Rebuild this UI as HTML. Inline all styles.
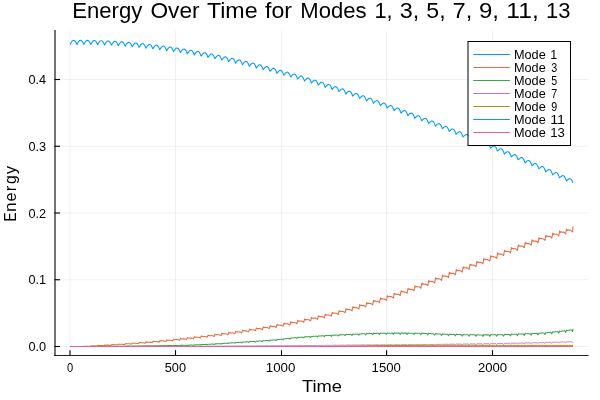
<!DOCTYPE html>
<html><head><meta charset="utf-8"><style>
html,body{margin:0;padding:0;background:#fff;}
svg{display:block;will-change:transform;}
text{font-family:"Liberation Sans",sans-serif;fill:#000;}
</style></head><body>
<svg width="600" height="400" viewBox="0 0 600 400">
<rect width="600" height="400" fill="#fff"/>
<g stroke="#000" stroke-opacity="0.06" stroke-width="1" fill="none">
<line x1="70" y1="30.5" x2="70" y2="355" />
<line x1="175.5" y1="30.5" x2="175.5" y2="355" />
<line x1="281.5" y1="30.5" x2="281.5" y2="355" />
<line x1="386.6" y1="30.5" x2="386.6" y2="355" />
<line x1="492.5" y1="30.5" x2="492.5" y2="355" />
<line x1="55" y1="346.5" x2="588.5" y2="346.5" />
<line x1="55" y1="279.75" x2="588.5" y2="279.75" />
<line x1="55" y1="213" x2="588.5" y2="213" />
<line x1="55" y1="146.25" x2="588.5" y2="146.25" />
<line x1="55" y1="79.5" x2="588.5" y2="79.5" />
</g>
<g fill="none" stroke-linejoin="round" stroke-linecap="butt">
<path d="M70,44.54 L70.35,44.12 L70.7,43.32 L71.05,42.65 L71.4,42.07 L71.75,41.57 L72.1,41.15 L72.45,40.82 L72.8,40.58 L73.15,40.42 L73.5,40.35 L73.85,40.38 L74.2,40.5 L74.55,40.7 L74.9,41 L75.25,41.38 L75.6,41.85 L75.95,42.4 L76.3,43.04 L76.65,43.79 L77,44.76 L77.35,43.78 L77.7,43.05 L78.05,42.41 L78.4,41.86 L78.75,41.39 L79.1,41 L79.45,40.69 L79.8,40.47 L80.15,40.34 L80.5,40.3 L80.85,40.35 L81.2,40.5 L81.55,40.73 L81.9,41.05 L82.25,41.47 L82.6,41.96 L82.95,42.55 L83.3,43.22 L83.65,44.03 L84,44.39 L84.35,43.56 L84.7,42.87 L85.05,42.27 L85.4,41.75 L85.75,41.3 L86.1,40.94 L86.45,40.66 L86.8,40.46 L87.15,40.36 L87.5,40.34 L87.85,40.42 L88.2,40.59 L88.55,40.85 L88.9,41.21 L89.25,41.65 L89.6,42.18 L89.95,42.79 L90.3,43.51 L90.65,44.39 L91,44.21 L91.35,43.45 L91.7,42.8 L92.05,42.23 L92.4,41.73 L92.75,41.31 L93.1,40.97 L93.45,40.72 L93.8,40.55 L94.15,40.47 L94.5,40.48 L94.85,40.59 L95.2,40.78 L95.55,41.08 L95.9,41.46 L96.25,41.93 L96.6,42.49 L96.95,43.14 L97.3,43.91 L97.65,44.92 L98,44.14 L98.35,43.44 L98.7,42.82 L99.05,42.28 L99.4,41.81 L99.75,41.42 L100.1,41.1 L100.45,40.87 L100.8,40.73 L101.15,40.67 L101.5,40.71 L101.85,40.84 L102.2,41.07 L102.55,41.39 L102.9,41.8 L103.25,42.31 L103.6,42.9 L103.95,43.59 L104.3,44.41 L104.65,44.98 L105,44.19 L105.35,43.53 L105.7,42.94 L106.05,42.43 L106.4,41.98 L106.75,41.61 L107.1,41.32 L107.45,41.11 L107.8,41 L108.15,40.97 L108.5,41.04 L108.85,41.2 L109.2,41.45 L109.55,41.8 L109.9,42.25 L110.25,42.78 L110.6,43.41 L110.95,44.14 L111.3,45.03 L111.65,45.06 L112,44.34 L112.35,43.71 L112.7,43.16 L113.05,42.66 L113.4,42.24 L113.75,41.9 L114.1,41.63 L114.45,41.45 L114.8,41.36 L115.15,41.36 L115.5,41.45 L115.85,41.64 L116.2,41.92 L116.55,42.3 L116.9,42.78 L117.25,43.35 L117.6,44.01 L117.95,44.79 L118.3,45.79 L118.65,45.26 L119,44.58 L119.35,43.99 L119.7,43.46 L120.05,42.99 L120.4,42.59 L120.75,42.27 L121.1,42.03 L121.45,41.87 L121.8,41.8 L122.15,41.83 L122.5,41.95 L122.85,42.17 L123.2,42.49 L123.55,42.9 L123.9,43.4 L124.25,44 L124.6,44.71 L124.95,45.54 L125.3,46.3 L125.65,45.55 L126,44.92 L126.35,44.35 L126.7,43.85 L127.05,43.4 L127.4,43.03 L127.75,42.73 L128.1,42.51 L128.45,42.38 L128.8,42.34 L129.15,42.39 L129.5,42.54 L129.85,42.79 L130.2,43.14 L130.55,43.58 L130.9,44.12 L131.25,44.75 L131.6,45.5 L131.95,46.4 L132.3,46.63 L132.65,45.95 L133,45.35 L133.35,44.81 L133.7,44.32 L134.05,43.9 L134.4,43.55 L134.75,43.28 L135.1,43.08 L135.45,42.97 L135.8,42.96 L136.15,43.04 L136.5,43.22 L136.85,43.5 L137.2,43.87 L137.55,44.35 L137.9,44.92 L138.25,45.59 L138.6,46.38 L138.95,47.38 L139.3,47.07 L139.65,46.44 L140,45.86 L140.35,45.34 L140.7,44.88 L141.05,44.48 L141.4,44.16 L141.75,43.9 L142.1,43.73 L142.45,43.65 L142.8,43.66 L143.15,43.77 L143.5,43.98 L143.85,44.29 L144.2,44.7 L144.55,45.21 L144.9,45.81 L145.25,46.52 L145.6,47.37 L145.95,48.31 L146.3,47.61 L146.65,47.01 L147,46.46 L147.35,45.96 L147.7,45.52 L148.05,45.15 L148.4,44.84 L148.75,44.61 L149.1,44.47 L149.45,44.41 L149.8,44.45 L150.15,44.59 L150.5,44.82 L150.85,45.16 L151.2,45.6 L151.55,46.14 L151.9,46.78 L152.25,47.53 L152.6,48.43 L152.95,48.86 L153.3,48.22 L153.65,47.64 L154,47.11 L154.35,46.64 L154.7,46.21 L155.05,45.86 L155.4,45.57 L155.75,45.36 L156.1,45.24 L156.45,45.21 L156.8,45.27 L157.15,45.44 L157.5,45.71 L157.85,46.07 L158.2,46.54 L158.55,47.12 L158.9,47.8 L159.25,48.59 L159.6,49.59 L159.95,49.48 L160.3,48.88 L160.65,48.33 L161,47.83 L161.35,47.37 L161.7,46.97 L162.05,46.63 L162.4,46.37 L162.75,46.18 L163.1,46.09 L163.45,46.08 L163.8,46.18 L164.15,46.37 L164.5,46.67 L164.85,47.07 L165.2,47.57 L165.55,48.18 L165.9,48.9 L166.25,49.75 L166.6,50.85 L166.95,50.2 L167.3,49.63 L167.65,49.1 L168,48.61 L168.35,48.18 L168.7,47.8 L169.05,47.48 L169.4,47.24 L169.75,47.08 L170.1,47.01 L170.45,47.03 L170.8,47.16 L171.15,47.38 L171.5,47.71 L171.85,48.14 L172.2,48.68 L172.55,49.33 L172.9,50.09 L173.25,51 L173.6,51.6 L173.95,51 L174.3,50.46 L174.65,49.95 L175,49.48 L175.35,49.06 L175.7,48.7 L176.05,48.41 L176.4,48.19 L176.75,48.05 L177.1,48.01 L177.45,48.06 L177.8,48.21 L178.15,48.47 L178.5,48.83 L178.85,49.3 L179.2,49.87 L179.55,50.55 L179.9,51.36 L180.25,52.35 L180.6,52.45 L180.95,51.88 L181.3,51.36 L181.65,50.87 L182,50.42 L182.35,50.02 L182.7,49.68 L183.05,49.41 L183.4,49.21 L183.75,49.1 L184.1,49.08 L184.45,49.16 L184.8,49.34 L185.15,49.63 L185.5,50.02 L185.85,50.53 L186.2,51.14 L186.55,51.86 L186.9,52.72 L187.25,53.86 L187.6,53.38 L187.95,52.84 L188.3,52.33 L188.65,51.86 L189,51.43 L189.35,51.05 L189.7,50.73 L190.05,50.48 L190.4,50.31 L190.75,50.22 L191.1,50.23 L191.45,50.34 L191.8,50.55 L192.15,50.87 L192.5,51.3 L192.85,51.83 L193.2,52.48 L193.55,53.25 L193.9,54.17 L194.25,54.94 L194.6,54.39 L194.95,53.87 L195.3,53.38 L195.65,52.92 L196,52.51 L196.35,52.15 L196.7,51.85 L197.05,51.62 L197.4,51.47 L197.75,51.41 L198.1,51.45 L198.45,51.59 L198.8,51.83 L199.15,52.18 L199.5,52.64 L199.85,53.22 L200.2,53.91 L200.55,54.72 L200.9,55.71 L201.25,55.99 L201.6,55.46 L201.95,54.96 L202.3,54.48 L202.65,54.04 L203,53.65 L203.35,53.31 L203.7,53.03 L204.05,52.82 L204.4,52.7 L204.75,52.67 L205.1,52.74 L205.45,52.91 L205.8,53.19 L206.15,53.58 L206.5,54.08 L206.85,54.69 L207.2,55.41 L207.55,56.27 L207.9,57.38 L208.25,57.11 L208.6,56.59 L208.95,56.1 L209.3,55.64 L209.65,55.22 L210,54.84 L210.35,54.52 L210.7,54.27 L211.05,54.09 L211.4,54 L211.75,54 L212.1,54.1 L212.45,54.31 L212.8,54.62 L213.15,55.05 L213.5,55.58 L213.85,56.23 L214.2,57 L214.55,57.91 L214.9,58.82 L215.25,58.29 L215.6,57.79 L215.95,57.31 L216.3,56.87 L216.65,56.46 L217,56.1 L217.35,55.81 L217.7,55.58 L218.05,55.43 L218.4,55.37 L218.75,55.4 L219.1,55.53 L219.45,55.78 L219.8,56.13 L220.15,56.59 L220.5,57.16 L220.85,57.84 L221.2,58.65 L221.55,59.64 L221.9,60.05 L222.25,59.54 L222.6,59.05 L222.95,58.59 L223.3,58.16 L223.65,57.77 L224,57.43 L224.35,57.16 L224.7,56.95 L225.05,56.83 L225.4,56.8 L225.75,56.87 L226.1,57.04 L226.45,57.31 L226.8,57.7 L227.15,58.2 L227.5,58.8 L227.85,59.53 L228.2,60.38 L228.55,61.47 L228.9,61.35 L229.25,60.85 L229.6,60.37 L229.95,59.92 L230.3,59.51 L230.65,59.14 L231,58.82 L231.35,58.57 L231.7,58.4 L232.05,58.3 L232.4,58.3 L232.75,58.4 L233.1,58.61 L233.45,58.92 L233.8,59.34 L234.15,59.87 L234.5,60.52 L234.85,61.28 L235.2,62.19 L235.55,63.23 L235.9,62.71 L236.25,62.22 L236.6,61.76 L236.95,61.32 L237.3,60.92 L237.65,60.57 L238,60.28 L238.35,60.05 L238.7,59.9 L239.05,59.84 L239.4,59.87 L239.75,60.01 L240.1,60.24 L240.45,60.59 L240.8,61.05 L241.15,61.62 L241.5,62.3 L241.85,63.11 L242.2,64.08 L242.55,64.63 L242.9,64.13 L243.25,63.66 L243.6,63.2 L243.95,62.78 L244.3,62.4 L244.65,62.07 L245,61.8 L245.35,61.6 L245.7,61.47 L246.05,61.44 L246.4,61.51 L246.75,61.67 L247.1,61.95 L247.45,62.33 L247.8,62.82 L248.15,63.43 L248.5,64.15 L248.85,65 L249.2,66.06 L249.55,66.1 L249.9,65.61 L250.25,65.15 L250.6,64.71 L250.95,64.3 L251.3,63.94 L251.65,63.62 L252,63.38 L252.35,63.2 L252.7,63.11 L253.05,63.11 L253.4,63.2 L253.75,63.4 L254.1,63.71 L254.45,64.13 L254.8,64.66 L255.15,65.3 L255.5,66.06 L255.85,66.96 L256.2,68.12 L256.55,67.62 L256.9,67.15 L257.25,66.69 L257.6,66.27 L257.95,65.88 L258.3,65.53 L258.65,65.24 L259,65.01 L259.35,64.87 L259.7,64.8 L260.05,64.83 L260.4,64.96 L260.75,65.2 L261.1,65.54 L261.45,66 L261.8,66.56 L262.15,67.24 L262.5,68.04 L262.85,69 L263.2,69.68 L263.55,69.2 L263.9,68.74 L264.25,68.3 L264.6,67.88 L264.95,67.51 L265.3,67.18 L265.65,66.91 L266,66.71 L266.35,66.59 L266.7,66.56 L267.05,66.62 L267.4,66.78 L267.75,67.05 L268.1,67.43 L268.45,67.92 L268.8,68.52 L269.15,69.24 L269.5,70.09 L269.85,71.13 L270.2,71.31 L270.55,70.84 L270.9,70.38 L271.25,69.95 L271.6,69.55 L271.95,69.2 L272.3,68.89 L272.65,68.64 L273,68.47 L273.35,68.38 L273.7,68.37 L274.05,68.47 L274.4,68.66 L274.75,68.97 L275.1,69.38 L275.45,69.91 L275.8,70.55 L276.15,71.3 L276.5,72.2 L276.85,73.39 L277.2,72.99 L277.55,72.52 L277.9,72.08 L278.25,71.66 L278.6,71.28 L278.95,70.94 L279.3,70.65 L279.65,70.43 L280,70.28 L280.35,70.22 L280.7,70.25 L281.05,70.37 L281.4,70.6 L281.75,70.94 L282.1,71.39 L282.45,71.96 L282.8,72.63 L283.15,73.43 L283.5,74.38 L283.85,75.18 L284.2,74.72 L284.55,74.26 L284.9,73.83 L285.25,73.43 L285.6,73.06 L285.95,72.74 L286.3,72.47 L286.65,72.27 L287,72.15 L287.35,72.12 L287.7,72.18 L288.05,72.34 L288.4,72.6 L288.75,72.98 L289.1,73.46 L289.45,74.06 L289.8,74.77 L290.15,75.61 L290.5,76.63 L290.85,76.95 L291.2,76.5 L291.55,76.06 L291.9,75.63 L292.25,75.24 L292.6,74.89 L292.95,74.59 L293.3,74.34 L293.65,74.17 L294,74.08 L294.35,74.07 L294.7,74.16 L295.05,74.35 L295.4,74.65 L295.75,75.06 L296.1,75.59 L296.45,76.22 L296.8,76.97 L297.15,77.86 L297.5,79 L297.85,78.78 L298.2,78.33 L298.55,77.9 L298.9,77.49 L299.25,77.11 L299.6,76.77 L299.95,76.49 L300.3,76.27 L300.65,76.12 L301,76.05 L301.35,76.08 L301.7,76.2 L302.05,76.43 L302.4,76.76 L302.75,77.21 L303.1,77.77 L303.45,78.44 L303.8,79.23 L304.15,80.17 L304.5,81.1 L304.85,80.64 L305.2,80.2 L305.55,79.78 L305.9,79.39 L306.25,79.02 L306.6,78.71 L306.95,78.44 L307.3,78.25 L307.65,78.12 L308,78.09 L308.35,78.14 L308.7,78.3 L309.05,78.56 L309.4,78.93 L309.75,79.41 L310.1,80 L310.45,80.71 L310.8,81.54 L311.15,82.55 L311.5,83 L311.85,82.56 L312.2,82.13 L312.55,81.72 L312.9,81.34 L313.25,80.99 L313.6,80.69 L313.95,80.45 L314.3,80.27 L314.65,80.18 L315,80.17 L315.35,80.26 L315.7,80.45 L316.05,80.74 L316.4,81.15 L316.75,81.66 L317.1,82.29 L317.45,83.04 L317.8,83.92 L318.15,85.02 L318.5,84.96 L318.85,84.52 L319.2,84.1 L319.55,83.7 L319.9,83.33 L320.25,83 L320.6,82.72 L320.95,82.5 L321.3,82.35 L321.65,82.28 L322,82.3 L322.35,82.42 L322.7,82.64 L323.05,82.97 L323.4,83.41 L323.75,83.97 L324.1,84.63 L324.45,85.42 L324.8,86.35 L325.15,87.4 L325.5,86.96 L325.85,86.53 L326.2,86.12 L326.55,85.73 L326.9,85.37 L327.25,85.06 L327.6,84.79 L327.95,84.6 L328.3,84.47 L328.65,84.43 L329,84.48 L329.35,84.64 L329.7,84.89 L330.05,85.26 L330.4,85.73 L330.75,86.32 L331.1,87.02 L331.45,87.85 L331.8,88.85 L332.15,89.43 L332.5,89 L332.85,88.58 L333.2,88.17 L333.55,87.8 L333.9,87.45 L334.25,87.16 L334.6,86.92 L334.95,86.74 L335.3,86.64 L335.65,86.63 L336,86.72 L336.35,86.9 L336.7,87.19 L337.05,87.59 L337.4,88.1 L337.75,88.73 L338.1,89.47 L338.45,90.34 L338.8,91.42 L339.15,91.5 L339.5,91.08 L339.85,90.67 L340.2,90.28 L340.55,89.91 L340.9,89.58 L341.25,89.3 L341.6,89.08 L341.95,88.93 L342.3,88.86 L342.65,88.88 L343,89 L343.35,89.21 L343.7,89.54 L344.05,89.97 L344.4,90.52 L344.75,91.18 L345.1,91.96 L345.45,92.89 L345.8,94.05 L346.15,93.62 L346.5,93.2 L346.85,92.8 L347.2,92.42 L347.55,92.07 L347.9,91.75 L348.25,91.49 L348.6,91.3 L348.95,91.17 L349.3,91.13 L349.65,91.18 L350,91.32 L350.35,91.57 L350.7,91.93 L351.05,92.4 L351.4,92.99 L351.75,93.69 L352.1,94.51 L352.45,95.49 L352.8,96.2 L353.15,95.78 L353.5,95.37 L353.85,94.97 L354.2,94.6 L354.55,94.26 L354.9,93.97 L355.25,93.73 L355.6,93.55 L355.95,93.45 L356.3,93.44 L356.65,93.52 L357,93.7 L357.35,93.98 L357.7,94.38 L358.05,94.88 L358.4,95.5 L358.75,96.24 L359.1,97.11 L359.45,98.17 L359.8,98.39 L360.15,97.98 L360.5,97.57 L360.85,97.19 L361.2,96.83 L361.55,96.5 L361.9,96.23 L362.25,96.01 L362.6,95.85 L362.95,95.78 L363.3,95.79 L363.65,95.9 L364,96.12 L364.35,96.44 L364.7,96.87 L365.05,97.41 L365.4,98.06 L365.75,98.84 L366.1,99.76 L366.45,100.98 L366.8,100.62 L367.15,100.21 L367.5,99.81 L367.85,99.44 L368.2,99.09 L368.55,98.78 L368.9,98.52 L369.25,98.32 L369.6,98.2 L369.95,98.15 L370.3,98.19 L370.65,98.34 L371,98.58 L371.35,98.94 L371.7,99.4 L372.05,99.98 L372.4,100.67 L372.75,101.49 L373.1,102.46 L373.45,103.29 L373.8,102.88 L374.15,102.48 L374.5,102.09 L374.85,101.73 L375.2,101.39 L375.55,101.1 L375.9,100.86 L376.25,100.69 L376.6,100.58 L376.95,100.56 L377.3,100.64 L377.65,100.81 L378,101.09 L378.35,101.48 L378.7,101.98 L379.05,102.59 L379.4,103.33 L379.75,104.19 L380.1,105.23 L380.45,105.59 L380.8,105.18 L381.15,104.79 L381.5,104.41 L381.85,104.06 L382.2,103.73 L382.55,103.46 L382.9,103.24 L383.25,103.09 L383.6,103.01 L383.95,103.02 L384.3,103.12 L384.65,103.33 L385,103.64 L385.35,104.07 L385.7,104.6 L386.05,105.26 L386.4,106.03 L386.75,106.93 L387.1,108.1 L387.45,107.92 L387.8,107.52 L388.15,107.13 L388.5,106.76 L388.85,106.42 L389.2,106.11 L389.55,105.86 L389.9,105.66 L390.25,105.53 L390.6,105.48 L390.95,105.52 L391.3,105.65 L391.65,105.89 L392,106.24 L392.35,106.7 L392.7,107.27 L393.05,107.96 L393.4,108.77 L393.75,109.73 L394.1,110.68 L394.45,110.28 L394.8,109.89 L395.15,109.51 L395.5,109.15 L395.85,108.82 L396.2,108.53 L396.55,108.29 L396.9,108.11 L397.25,108.01 L397.6,107.98 L397.95,108.05 L398.3,108.22 L398.65,108.49 L399,108.88 L399.35,109.37 L399.7,109.98 L400.05,110.71 L400.4,111.56 L400.75,112.59 L401.1,113.07 L401.45,112.68 L401.8,112.29 L402.15,111.92 L402.5,111.57 L402.85,111.25 L403.2,110.98 L403.55,110.76 L403.9,110.6 L404.25,110.52 L404.6,110.53 L404.95,110.63 L405.3,110.83 L405.65,111.14 L406,111.55 L406.35,112.09 L406.7,112.73 L407.05,113.5 L407.4,114.39 L407.75,115.53 L408.1,115.5 L408.45,115.11 L408.8,114.73 L409.15,114.37 L409.5,114.03 L409.85,113.73 L410.2,113.47 L410.55,113.27 L410.9,113.14 L411.25,113.08 L411.6,113.12 L411.95,113.25 L412.3,113.48 L412.65,113.82 L413,114.27 L413.35,114.84 L413.7,115.52 L414.05,116.33 L414.4,117.28 L414.75,118.34 L415.1,117.95 L415.45,117.57 L415.8,117.2 L416.15,116.85 L416.5,116.52 L416.85,116.23 L417.2,115.99 L417.55,115.81 L417.9,115.7 L418.25,115.68 L418.6,115.74 L418.95,115.9 L419.3,116.17 L419.65,116.54 L420,117.03 L420.35,117.64 L420.7,118.36 L421.05,119.2 L421.4,120.22 L421.75,120.82 L422.1,120.44 L422.45,120.07 L422.8,119.7 L423.15,119.36 L423.5,119.04 L423.85,118.77 L424.2,118.55 L424.55,118.39 L424.9,118.31 L425.25,118.31 L425.6,118.4 L425.95,118.6 L426.3,118.9 L426.65,119.31 L427,119.83 L427.35,120.47 L427.7,121.23 L428.05,122.12 L428.4,123.22 L428.75,123.34 L429.1,122.96 L429.45,122.59 L429.8,122.23 L430.15,121.9 L430.5,121.6 L430.85,121.34 L431.2,121.14 L431.55,121 L431.9,120.95 L432.25,120.97 L432.6,121.1 L432.95,121.33 L433.3,121.66 L433.65,122.11 L434,122.67 L434.35,123.34 L434.7,124.14 L435.05,125.08 L435.4,126.25 L435.75,125.88 L436.1,125.51 L436.45,125.14 L436.8,124.79 L437.15,124.47 L437.5,124.18 L437.85,123.94 L438.2,123.76 L438.55,123.65 L438.9,123.62 L439.25,123.68 L439.6,123.83 L439.95,124.09 L440.3,124.46 L440.65,124.94 L441,125.54 L441.35,126.25 L441.7,127.09 L442.05,128.09 L442.4,128.82 L442.75,128.45 L443.1,128.08 L443.45,127.72 L443.8,127.38 L444.15,127.07 L444.5,126.8 L444.85,126.58 L445.2,126.42 L445.55,126.33 L445.9,126.33 L446.25,126.42 L446.6,126.61 L446.95,126.9 L447.3,127.3 L447.65,127.82 L448,128.45 L448.35,129.2 L448.7,130.09 L449.05,131.17 L449.4,131.42 L449.75,131.05 L450.1,130.69 L450.45,130.34 L450.8,130.01 L451.15,129.71 L451.5,129.45 L451.85,129.25 L452.2,129.11 L452.55,129.05 L452.9,129.07 L453.25,129.19 L453.6,129.41 L453.95,129.74 L454.3,130.18 L454.65,130.73 L455,131.4 L455.35,132.19 L455.7,133.12 L456.05,134.38 L456.4,134.04 L456.75,133.68 L457.1,133.32 L457.45,132.97 L457.8,132.66 L458.15,132.37 L458.5,132.13 L458.85,131.95 L459.2,131.83 L459.55,131.8 L459.9,131.85 L460.25,132 L460.6,132.25 L460.95,132.61 L461.3,133.09 L461.65,133.68 L462,134.38 L462.35,135.22 L462.7,136.2 L463.05,137.05 L463.4,136.69 L463.75,136.33 L464.1,135.98 L464.45,135.64 L464.8,135.33 L465.15,135.06 L465.5,134.84 L465.85,134.68 L466.2,134.59 L466.55,134.58 L466.9,134.66 L467.25,134.84 L467.6,135.13 L467.95,135.52 L468.3,136.03 L468.65,136.66 L469,137.4 L469.35,138.28 L469.7,139.34 L470.05,139.72 L470.4,139.36 L470.75,139.01 L471.1,138.66 L471.45,138.34 L471.8,138.04 L472.15,137.78 L472.5,137.58 L472.85,137.44 L473.2,137.37 L473.55,137.39 L473.9,137.5 L474.25,137.72 L474.6,138.04 L474.95,138.47 L475.3,139.02 L475.65,139.68 L476,140.46 L476.35,141.38 L476.7,142.57 L477.05,142.42 L477.4,142.06 L477.75,141.71 L478.1,141.37 L478.45,141.06 L478.8,140.77 L479.15,140.53 L479.5,140.35 L479.85,140.23 L480.2,140.19 L480.55,140.24 L480.9,140.38 L481.25,140.63 L481.6,140.98 L481.95,141.45 L482.3,142.03 L482.65,142.73 L483,143.55 L483.35,144.53 L483.7,145.48 L484.05,145.14 L484.4,144.79 L484.75,144.44 L485.1,144.11 L485.45,143.8 L485.8,143.53 L486.15,143.31 L486.5,143.15 L486.85,143.05 L487.2,143.04 L487.55,143.12 L487.9,143.29 L488.25,143.57 L488.6,143.96 L488.95,144.46 L489.3,145.08 L489.65,145.81 L490,146.68 L490.35,147.73 L490.7,148.23 L491.05,147.88 L491.4,147.53 L491.75,147.19 L492.1,146.87 L492.45,146.58 L492.8,146.32 L493.15,146.12 L493.5,145.97 L493.85,145.9 L494.2,145.92 L494.55,146.02 L494.9,146.23 L495.25,146.54 L495.6,146.97 L495.95,147.5 L496.3,148.16 L496.65,148.93 L497,149.85 L497.35,151 L497.7,151 L498.05,150.65 L498.4,150.31 L498.75,149.97 L499.1,149.66 L499.45,149.38 L499.8,149.14 L500.15,148.95 L500.5,148.83 L500.85,148.79 L501.2,148.83 L501.55,148.96 L501.9,149.2 L502.25,149.55 L502.6,150.01 L502.95,150.58 L503.3,151.27 L503.65,152.09 L504,153.05 L504.35,154.12 L504.7,153.78 L505.05,153.44 L505.4,153.1 L505.75,152.77 L506.1,152.47 L506.45,152.2 L506.8,151.98 L507.15,151.81 L507.5,151.71 L507.85,151.7 L508.2,151.76 L508.55,151.93 L508.9,152.2 L509.25,152.58 L509.6,153.08 L509.95,153.69 L510.3,154.42 L510.65,155.28 L511,156.31 L511.35,156.93 L511.7,156.59 L512.05,156.25 L512.4,155.92 L512.75,155.6 L513.1,155.31 L513.45,155.05 L513.8,154.85 L514.15,154.7 L514.5,154.63 L514.85,154.63 L515.2,154.73 L515.55,154.93 L515.9,155.24 L516.25,155.65 L516.6,156.18 L516.95,156.83 L517.3,157.6 L517.65,158.5 L518,159.62 L518.35,159.76 L518.7,159.42 L519.05,159.09 L519.4,158.76 L519.75,158.45 L520.1,158.17 L520.45,157.93 L520.8,157.74 L521.15,157.62 L521.5,157.57 L521.85,157.6 L522.2,157.73 L522.55,157.96 L522.9,158.3 L523.25,158.75 L523.6,159.32 L523.95,160 L524.3,160.81 L524.65,161.76 L525,162.93 L525.35,162.61 L525.7,162.28 L526.05,161.94 L526.4,161.62 L526.75,161.32 L527.1,161.05 L527.45,160.83 L527.8,160.66 L528.15,160.56 L528.5,160.53 L528.85,160.6 L529.2,160.76 L529.55,161.02 L529.9,161.39 L530.25,161.88 L530.6,162.48 L530.95,163.2 L531.3,164.05 L531.65,165.07 L532,165.81 L532.35,165.48 L532.7,165.15 L533.05,164.82 L533.4,164.51 L533.75,164.22 L534.1,163.96 L534.45,163.75 L534.8,163.61 L535.15,163.53 L535.5,163.53 L535.85,163.62 L536.2,163.81 L536.55,164.11 L536.9,164.52 L537.25,165.04 L537.6,165.68 L537.95,166.44 L538.3,167.33 L538.65,168.43 L539,168.7 L539.35,168.37 L539.7,168.04 L540.05,167.72 L540.4,167.41 L540.75,167.13 L541.1,166.89 L541.45,166.7 L541.8,166.58 L542.15,166.52 L542.5,166.55 L542.85,166.67 L543.2,166.9 L543.55,167.23 L543.9,167.67 L544.25,168.23 L544.6,168.9 L544.95,169.7 L545.3,170.65 L545.65,171.92 L546,171.61 L546.35,171.28 L546.7,170.95 L547.05,170.64 L547.4,170.34 L547.75,170.07 L548.1,169.85 L548.45,169.68 L548.8,169.57 L549.15,169.54 L549.5,169.6 L549.85,169.75 L550.2,170.01 L550.55,170.37 L550.9,170.85 L551.25,171.45 L551.6,172.16 L551.95,173 L552.3,174 L552.65,174.85 L553,174.54 L553.35,174.21 L553.7,173.89 L554.05,173.58 L554.4,173.29 L554.75,173.04 L555.1,172.83 L555.45,172.68 L555.8,172.59 L556.15,172.59 L556.5,172.68 L556.85,172.86 L557.2,173.15 L557.55,173.55 L557.9,174.06 L558.25,174.69 L558.6,175.44 L558.95,176.33 L559.3,177.41 L559.65,177.8 L560,177.48 L560.35,177.16 L560.7,176.84 L561.05,176.54 L561.4,176.26 L561.75,176.02 L562.1,175.83 L562.45,175.7 L562.8,175.64 L563.15,175.66 L563.5,175.78 L563.85,176 L564.2,176.32 L564.55,176.75 L564.9,177.3 L565.25,177.97 L565.6,178.76 L565.95,179.69 L566.3,180.9 L566.65,180.77 L567,180.45 L567.35,180.13 L567.7,179.82 L568.05,179.52 L568.4,179.26 L568.75,179.03 L569.1,178.86 L569.45,178.75 L569.8,178.71 L570.15,178.76 L570.5,178.91 L570.85,179.16 L571.2,179.51 L571.55,179.98 L571.9,180.57 L572.25,181.28 L572.6,182.11 L572.95,183.09" stroke="#009AFA" stroke-width="1.05"/>
<path d="M70,346.5 L70.3,346.5 L71.1,346.5 L71.9,346.5 L72.8,346.5 L74,346.5 L75.29,346.52 L76.29,346.55 L77.19,346.47 L77.99,346.5 L78.79,346.49 L79.69,346.5 L80.89,346.5 L82.18,346.53 L83.18,346.6 L84.08,346.17 L84.88,346.24 L85.68,346.21 L86.58,346.24 L87.78,346.23 L89.08,346.29 L90.08,346.38 L90.98,345.79 L91.78,345.9 L92.58,345.85 L93.48,345.89 L94.68,345.88 L95.97,345.96 L96.97,346.09 L97.87,345.38 L98.67,345.54 L99.47,345.47 L100.37,345.53 L101.57,345.51 L102.86,345.61 L103.86,345.77 L104.76,344.95 L105.56,345.15 L106.36,345.06 L107.26,345.13 L108.46,345.11 L109.75,345.23 L110.75,345.43 L111.65,344.49 L112.45,344.73 L113.25,344.63 L114.15,344.71 L115.35,344.68 L116.64,344.82 L117.64,345.05 L118.54,344.01 L119.34,344.28 L120.14,344.16 L121.04,344.26 L122.24,344.22 L123.54,344.39 L124.54,344.65 L125.44,343.49 L126.24,343.8 L127.04,343.67 L127.94,343.78 L129.14,343.74 L130.43,343.92 L131.43,344.22 L132.33,342.95 L133.13,343.3 L133.93,343.14 L134.83,343.27 L136.03,343.22 L137.32,343.43 L138.32,343.76 L139.22,342.37 L140.02,342.76 L140.82,342.59 L141.72,342.73 L142.92,342.68 L144.21,342.91 L145.21,343.28 L146.11,341.77 L146.91,342.2 L147.71,342.01 L148.61,342.16 L149.81,342.11 L151.1,342.36 L152.1,342.75 L153,341.14 L153.8,341.61 L154.6,341.4 L155.5,341.57 L156.7,341.5 L158,341.77 L159,342.18 L159.9,340.49 L160.7,340.98 L161.5,340.77 L162.4,340.94 L163.6,340.87 L164.89,341.15 L165.89,341.58 L166.79,339.8 L167.59,340.32 L168.39,340.1 L169.29,340.28 L170.49,340.21 L171.78,340.5 L172.78,340.95 L173.68,339.09 L174.48,339.64 L175.28,339.4 L176.18,339.59 L177.38,339.52 L178.67,339.82 L179.67,340.28 L180.57,338.34 L181.37,338.92 L182.17,338.67 L183.07,338.87 L184.27,338.79 L185.56,339.1 L186.56,339.59 L187.46,337.57 L188.26,338.17 L189.06,337.9 L189.96,338.11 L191.16,338.04 L192.46,338.36 L193.46,338.86 L194.36,336.76 L195.16,337.38 L195.96,337.11 L196.86,337.33 L198.06,337.25 L199.35,337.58 L200.35,338.1 L201.25,335.91 L202.05,336.57 L202.85,336.28 L203.75,336.51 L204.95,336.42 L206.24,336.77 L207.24,337.31 L208.14,335.04 L208.94,335.72 L209.74,335.42 L210.64,335.66 L211.84,335.57 L213.13,335.93 L214.13,336.48 L215.03,334.13 L215.83,334.83 L216.63,334.53 L217.53,334.77 L218.73,334.68 L220.02,335.05 L221.02,335.63 L221.92,333.18 L222.72,333.92 L223.52,333.6 L224.42,333.85 L225.62,333.76 L226.92,334.14 L227.92,334.73 L228.82,332.21 L229.62,332.97 L230.42,332.64 L231.32,332.9 L232.52,332.8 L233.81,333.2 L234.81,333.81 L235.71,331.19 L236.51,331.98 L237.31,331.64 L238.21,331.91 L239.41,331.81 L240.7,332.22 L241.7,332.84 L242.6,330.15 L243.4,330.96 L244.2,330.61 L245.1,330.89 L246.3,330.78 L247.59,331.2 L248.59,331.85 L249.49,329.06 L250.29,329.9 L251.09,329.54 L251.99,329.83 L253.19,329.72 L254.48,330.15 L255.48,330.82 L256.38,327.94 L257.18,328.81 L257.98,328.43 L258.88,328.73 L260.08,328.62 L261.38,329.06 L262.38,329.75 L263.28,326.78 L264.08,327.68 L264.88,327.29 L265.78,327.6 L266.98,327.48 L268.27,327.94 L269.27,328.64 L270.17,325.58 L270.97,326.5 L271.77,326.1 L272.67,326.42 L273.87,326.3 L275.16,326.77 L276.16,327.48 L277.06,324.33 L277.86,325.27 L278.66,324.86 L279.56,325.19 L280.76,325.07 L282.05,325.55 L283.05,326.28 L283.95,323.03 L284.75,324 L285.55,323.58 L286.45,323.92 L287.65,323.79 L288.94,324.28 L289.94,325.03 L290.84,321.68 L291.64,322.67 L292.44,322.24 L293.34,322.59 L294.54,322.46 L295.84,322.96 L296.84,323.73 L297.74,320.27 L298.54,321.29 L299.34,320.85 L300.24,321.2 L301.44,321.07 L302.73,321.58 L303.73,322.36 L304.63,318.8 L305.43,319.85 L306.23,319.39 L307.13,319.76 L308.33,319.62 L309.62,320.14 L310.62,320.93 L311.52,317.29 L312.32,318.34 L313.12,317.88 L314.02,318.25 L315.22,318.11 L316.51,318.64 L317.51,319.44 L318.41,315.7 L319.21,316.77 L320.01,316.3 L320.91,316.67 L322.11,316.53 L323.4,317.07 L324.4,317.88 L325.3,314.05 L326.1,315.12 L326.9,314.66 L327.8,315.03 L329,314.89 L330.3,315.43 L331.3,316.25 L332.2,312.32 L333,313.41 L333.8,312.94 L334.7,313.31 L335.9,313.17 L337.19,313.72 L338.19,314.55 L339.09,310.52 L339.89,311.62 L340.69,311.14 L341.59,311.52 L342.79,311.38 L344.08,311.93 L345.08,312.77 L345.98,308.64 L346.78,309.75 L347.58,309.27 L348.48,309.65 L349.68,309.51 L350.97,310.06 L351.97,310.92 L352.87,306.68 L353.67,307.8 L354.47,307.31 L355.37,307.7 L356.57,307.55 L357.86,308.12 L358.86,308.98 L359.76,304.63 L360.56,305.76 L361.36,305.27 L362.26,305.67 L363.46,305.52 L364.76,306.09 L365.76,306.96 L366.66,302.5 L367.46,303.65 L368.26,303.15 L369.16,303.55 L370.36,303.4 L371.65,303.97 L372.65,304.86 L373.55,300.3 L374.35,301.46 L375.15,300.95 L376.05,301.35 L377.25,301.2 L378.54,301.79 L379.54,302.68 L380.44,298.02 L381.24,299.19 L382.04,298.68 L382.94,299.09 L384.14,298.94 L385.43,299.52 L386.43,300.43 L387.33,295.68 L388.13,296.86 L388.93,296.35 L389.83,296.76 L391.03,296.6 L392.32,297.2 L393.32,298.11 L394.22,293.27 L395.02,294.46 L395.82,293.95 L396.72,294.36 L397.92,294.21 L399.22,294.81 L400.22,295.73 L401.12,290.81 L401.92,292.01 L402.72,291.49 L403.62,291.91 L404.82,291.75 L406.11,292.36 L407.11,293.29 L408.01,288.29 L408.81,289.51 L409.61,288.98 L410.51,289.4 L411.71,289.24 L413,289.85 L414,290.8 L414.9,285.72 L415.7,286.95 L416.5,286.42 L417.4,286.84 L418.6,286.68 L419.89,287.3 L420.89,288.26 L421.79,283.11 L422.59,284.35 L423.39,283.81 L424.29,284.24 L425.49,284.08 L426.78,284.71 L427.78,285.67 L428.68,280.46 L429.48,281.71 L430.28,281.17 L431.18,281.6 L432.38,281.44 L433.68,282.07 L434.68,283.05 L435.58,277.78 L436.38,279.04 L437.18,278.49 L438.08,278.93 L439.28,278.76 L440.57,279.4 L441.57,280.38 L442.47,275.06 L443.27,276.33 L444.07,275.78 L444.97,276.22 L446.17,276.06 L447.46,276.7 L448.46,277.69 L449.36,272.32 L450.16,273.6 L450.96,273.04 L451.86,273.49 L453.06,273.32 L454.35,273.98 L455.35,274.98 L456.25,269.55 L457.05,270.85 L457.85,270.29 L458.75,270.74 L459.95,270.57 L461.24,271.23 L462.24,272.24 L463.14,266.78 L463.94,268.08 L464.74,267.51 L465.64,267.97 L466.84,267.8 L468.14,268.46 L469.14,269.48 L470.04,263.98 L470.84,265.3 L471.64,264.73 L472.54,265.19 L473.74,265.02 L475.03,265.69 L476.03,266.72 L476.93,261.19 L477.73,262.52 L478.53,261.94 L479.43,262.4 L480.63,262.23 L481.92,262.91 L482.92,263.95 L483.82,258.4 L484.62,259.74 L485.42,259.16 L486.32,259.63 L487.52,259.45 L488.81,260.13 L489.81,261.19 L490.71,255.63 L491.51,256.98 L492.31,256.39 L493.21,256.87 L494.41,256.69 L495.7,257.38 L496.7,258.44 L497.6,252.88 L498.4,254.25 L499.2,253.65 L500.1,254.13 L501.3,253.95 L502.6,254.65 L503.6,255.72 L504.5,250.17 L505.3,251.55 L506.1,250.95 L507,251.43 L508.2,251.25 L509.49,251.95 L510.49,253.03 L511.39,247.5 L512.19,248.89 L512.99,248.29 L513.89,248.77 L515.09,248.59 L516.38,249.3 L517.38,250.39 L518.28,244.89 L519.08,246.29 L519.88,245.68 L520.78,246.17 L521.98,245.99 L523.27,246.7 L524.27,247.8 L525.17,242.35 L525.97,243.76 L526.77,243.14 L527.67,243.64 L528.87,243.45 L530.16,244.17 L531.16,245.28 L532.06,239.87 L532.86,241.3 L533.66,240.68 L534.56,241.17 L535.76,240.99 L537.06,241.71 L538.06,242.83 L538.96,237.48 L539.76,238.92 L540.56,238.29 L541.46,238.79 L542.66,238.61 L543.95,239.34 L544.95,240.47 L545.85,235.19 L546.65,236.63 L547.45,236.01 L548.35,236.51 L549.55,236.32 L550.84,237.06 L551.84,238.2 L552.74,232.99 L553.54,234.45 L554.34,233.82 L555.24,234.33 L556.44,234.14 L557.73,234.88 L558.73,236.03 L559.63,230.91 L560.43,232.39 L561.23,231.75 L562.13,232.26 L563.33,232.07 L564.62,232.82 L565.62,233.98 L566.52,228.96 L567.32,230.44 L568.12,229.79 L569.02,230.31 L570.22,230.12 L571.52,230.88 L572.52,232.05 L573,226.59" stroke="#E36F47" stroke-width="1.05"/>
<path d="M70,346.5 L70.3,346.5 L70.7,346.5 L71.1,346.5 L71.4,346.5 L72.1,346.5 L72.8,346.5 L73.5,346.49 L74.2,346.49 L74.9,346.49 L75.29,346.49 L75.6,346.49 L76.29,346.51 L76.3,346.51 L77,346.48 L77.19,346.48 L77.7,346.48 L77.99,346.48 L78.4,346.48 L79.1,346.48 L79.8,346.47 L80.5,346.47 L81.2,346.47 L81.9,346.47 L82.18,346.46 L82.6,346.48 L83.18,346.51 L83.3,346.5 L84,346.45 L84.08,346.44 L84.7,346.45 L84.88,346.45 L85.4,346.45 L86.1,346.45 L86.8,346.44 L87.5,346.44 L88.2,346.44 L88.9,346.43 L89.08,346.43 L89.6,346.47 L90.08,346.5 L90.3,346.48 L90.98,346.4 L91,346.4 L91.7,346.41 L91.78,346.41 L92.4,346.41 L93.1,346.41 L93.8,346.4 L94.5,346.4 L95.2,346.39 L95.9,346.39 L95.97,346.39 L96.6,346.45 L96.97,346.49 L97.3,346.44 L97.87,346.35 L98,346.35 L98.67,346.37 L98.7,346.37 L99.4,346.36 L100.1,346.36 L100.8,346.35 L101.5,346.35 L102.2,346.34 L102.86,346.34 L102.9,346.34 L103.6,346.43 L103.86,346.46 L104.3,346.38 L104.76,346.29 L105,346.3 L105.56,346.32 L105.7,346.32 L106.4,346.31 L107.1,346.31 L107.8,346.3 L108.5,346.3 L109.2,346.29 L109.75,346.29 L109.9,346.31 L110.6,346.41 L110.75,346.43 L111.3,346.31 L111.65,346.23 L112,346.24 L112.45,346.26 L112.7,346.26 L113.4,346.26 L114.1,346.25 L114.8,346.24 L115.5,346.24 L116.2,346.23 L116.64,346.23 L116.9,346.27 L117.6,346.4 L117.64,346.4 L118.3,346.23 L118.54,346.17 L119,346.19 L119.34,346.21 L119.7,346.2 L120.4,346.2 L121.1,346.19 L121.8,346.18 L122.5,346.18 L123.2,346.17 L123.54,346.17 L123.9,346.24 L124.54,346.36 L124.6,346.35 L125.3,346.13 L125.44,346.09 L126,346.12 L126.24,346.14 L126.7,346.13 L127.4,346.12 L128.1,346.11 L128.8,346.1 L129.5,346.09 L130.2,346.09 L130.43,346.08 L130.9,346.19 L131.43,346.3 L131.6,346.25 L132.3,346.01 L132.33,346 L133,346.04 L133.13,346.04 L133.7,346.04 L134.4,346.03 L135.1,346.02 L135.8,346.01 L136.5,346 L137.2,345.99 L137.32,345.98 L137.9,346.13 L138.32,346.23 L138.6,346.13 L139.22,345.89 L139.3,345.89 L140,345.94 L140.02,345.94 L140.7,345.93 L141.4,345.92 L142.1,345.91 L142.8,345.9 L143.5,345.89 L144.2,345.88 L144.21,345.88 L144.9,346.07 L145.21,346.16 L145.6,346 L146.11,345.78 L146.3,345.8 L146.91,345.84 L147,345.84 L147.7,345.83 L148.4,345.82 L149.1,345.81 L149.8,345.8 L150.5,345.79 L151.1,345.79 L151.2,345.81 L151.9,346.03 L152.1,346.09 L152.6,345.87 L153,345.68 L153.3,345.71 L153.8,345.75 L154,345.75 L154.7,345.74 L155.4,345.73 L156.1,345.73 L156.8,345.72 L157.5,345.71 L158,345.7 L158.2,345.77 L158.9,346 L159,346.03 L159.6,345.74 L159.9,345.6 L160.3,345.64 L160.7,345.67 L161,345.67 L161.7,345.66 L162.4,345.65 L163.1,345.65 L163.8,345.64 L164.5,345.63 L164.89,345.63 L165.2,345.74 L165.89,345.98 L165.9,345.98 L166.6,345.61 L166.79,345.51 L167.3,345.56 L167.59,345.59 L168,345.59 L168.7,345.58 L169.4,345.57 L170.1,345.56 L170.8,345.55 L171.5,345.54 L171.78,345.54 L172.2,345.7 L172.78,345.92 L172.9,345.85 L173.6,345.46 L173.68,345.41 L174.3,345.48 L174.48,345.5 L175,345.49 L175.7,345.48 L176.4,345.47 L177.1,345.45 L177.8,345.44 L178.5,345.43 L178.67,345.43 L179.2,345.64 L179.67,345.83 L179.9,345.69 L180.57,345.28 L180.6,345.29 L181.3,345.36 L181.37,345.37 L182,345.36 L182.7,345.34 L183.4,345.32 L184.1,345.3 L184.8,345.28 L185.5,345.26 L185.56,345.26 L186.2,345.52 L186.56,345.68 L186.9,345.46 L187.46,345.09 L187.6,345.1 L188.26,345.17 L188.3,345.17 L189,345.15 L189.7,345.12 L190.4,345.09 L191.1,345.07 L191.8,345.04 L192.46,345.01 L192.5,345.03 L193.2,345.34 L193.46,345.45 L193.9,345.14 L194.36,344.82 L194.6,344.84 L195.16,344.9 L195.3,344.9 L196,344.87 L196.7,344.83 L197.4,344.8 L198.1,344.77 L198.8,344.74 L199.35,344.71 L199.5,344.78 L200.2,345.1 L200.35,345.17 L200.9,344.76 L201.25,344.5 L201.6,344.54 L202.05,344.59 L202.3,344.58 L203,344.54 L203.7,344.51 L204.4,344.47 L205.1,344.44 L205.8,344.41 L206.24,344.38 L206.5,344.51 L207.2,344.85 L207.24,344.86 L207.9,344.35 L208.14,344.16 L208.6,344.21 L208.94,344.25 L209.3,344.23 L210,344.2 L210.7,344.17 L211.4,344.13 L212.1,344.09 L212.8,344.06 L213.13,344.04 L213.5,344.22 L214.13,344.54 L214.2,344.48 L214.9,343.9 L215.03,343.79 L215.6,343.86 L215.83,343.89 L216.3,343.86 L217,343.82 L217.7,343.78 L218.4,343.73 L219.1,343.69 L219.8,343.65 L220.02,343.63 L220.5,343.88 L221.02,344.15 L221.2,344 L221.9,343.39 L221.92,343.36 L222.6,343.44 L222.72,343.46 L223.3,343.42 L224,343.38 L224.7,343.33 L225.4,343.28 L226.1,343.24 L226.8,343.19 L226.92,343.18 L227.5,343.5 L227.92,343.73 L228.2,343.47 L228.82,342.9 L228.9,342.91 L229.6,343 L229.62,343 L230.3,342.95 L231,342.9 L231.7,342.86 L232.4,342.81 L233.1,342.76 L233.8,342.71 L233.81,342.71 L234.5,343.11 L234.81,343.28 L235.2,342.91 L235.71,342.42 L235.9,342.45 L236.51,342.53 L236.6,342.52 L237.3,342.48 L238,342.43 L238.7,342.39 L239.4,342.34 L240.1,342.29 L240.7,342.25 L240.8,342.31 L241.5,342.74 L241.7,342.86 L242.2,342.36 L242.6,341.97 L242.9,342.01 L243.4,342.08 L243.6,342.07 L244.3,342.03 L245,341.98 L245.7,341.94 L246.4,341.89 L247.1,341.85 L247.59,341.82 L247.8,341.95 L248.5,342.39 L248.59,342.45 L249.2,341.83 L249.49,341.53 L249.9,341.59 L250.29,341.65 L250.6,341.63 L251.3,341.59 L252,341.55 L252.7,341.5 L253.4,341.46 L254.1,341.41 L254.48,341.39 L254.8,341.6 L255.48,342.05 L255.5,342.03 L256.2,341.28 L256.38,341.09 L256.9,341.17 L257.18,341.22 L257.6,341.19 L258.3,341.14 L259,341.1 L259.7,341.05 L260.4,341 L261.1,340.96 L261.38,340.94 L261.8,341.22 L262.38,341.62 L262.5,341.48 L263.2,340.7 L263.28,340.62 L263.9,340.72 L264.08,340.75 L264.6,340.71 L265.3,340.66 L266,340.61 L266.7,340.56 L267.4,340.5 L268.1,340.45 L268.27,340.44 L268.8,340.81 L269.27,341.14 L269.5,340.87 L270.17,340.09 L270.2,340.1 L270.9,340.21 L270.97,340.22 L271.6,340.17 L272.3,340.11 L273,340.04 L273.7,339.98 L274.4,339.91 L275.1,339.84 L275.16,339.84 L275.8,340.29 L276.16,340.54 L276.5,340.13 L277.06,339.44 L277.2,339.46 L277.86,339.56 L277.9,339.56 L278.6,339.49 L279.3,339.41 L280,339.34 L280.7,339.26 L281.4,339.18 L282.05,339.11 L282.1,339.15 L282.8,339.65 L283.05,339.83 L283.5,339.27 L283.95,338.69 L284.2,338.73 L284.75,338.81 L284.9,338.8 L285.6,338.72 L286.3,338.64 L287,338.56 L287.7,338.49 L288.4,338.41 L288.94,338.35 L289.1,338.47 L289.8,338.99 L289.94,339.1 L290.5,338.38 L290.84,337.93 L291.2,337.99 L291.64,338.06 L291.9,338.04 L292.6,337.97 L293.3,337.9 L294,337.83 L294.7,337.76 L295.4,337.69 L295.84,337.65 L296.1,337.86 L296.8,338.42 L296.84,338.45 L297.5,337.57 L297.74,337.26 L298.2,337.35 L298.54,337.42 L298.9,337.39 L299.6,337.33 L300.3,337.28 L301,337.22 L301.7,337.17 L302.4,337.12 L302.73,337.1 L303.1,337.41 L303.73,337.94 L303.8,337.84 L304.5,336.9 L304.63,336.73 L305.2,336.85 L305.43,336.9 L305.9,336.87 L306.6,336.82 L307.3,336.77 L308,336.72 L308.7,336.68 L309.4,336.63 L309.62,336.61 L310.1,337.03 L310.62,337.49 L310.8,337.24 L311.5,336.28 L311.52,336.25 L312.2,336.41 L312.32,336.44 L312.9,336.4 L313.6,336.35 L314.3,336.31 L315,336.26 L315.7,336.22 L316.4,336.18 L316.51,336.17 L317.1,336.7 L317.51,337.08 L317.8,336.67 L318.41,335.81 L318.5,335.83 L319.2,336 L319.21,336.01 L319.9,335.97 L320.6,335.93 L321.3,335.88 L322,335.84 L322.7,335.8 L323.4,335.76 L323.4,335.76 L324.1,336.42 L324.4,336.7 L324.8,336.13 L325.3,335.41 L325.5,335.46 L326.1,335.61 L326.2,335.61 L326.9,335.57 L327.6,335.53 L328.3,335.49 L329,335.46 L329.7,335.42 L330.3,335.39 L330.4,335.49 L331.1,336.17 L331.3,336.36 L331.8,335.62 L332.2,335.03 L332.5,335.11 L333,335.25 L333.2,335.24 L333.9,335.2 L334.6,335.17 L335.3,335.13 L336,335.1 L336.7,335.06 L337.19,335.04 L337.4,335.25 L338.1,335.95 L338.19,336.04 L338.8,335.12 L339.09,334.68 L339.5,334.8 L339.89,334.91 L340.2,334.89 L340.9,334.86 L341.6,334.82 L342.3,334.79 L343,334.75 L343.7,334.72 L344.08,334.7 L344.4,335.03 L345.08,335.73 L345.1,335.7 L345.8,334.62 L345.98,334.34 L346.5,334.49 L346.78,334.57 L347.2,334.55 L347.9,334.51 L348.6,334.48 L349.3,334.44 L350,334.41 L350.7,334.37 L350.97,334.36 L351.4,334.81 L351.97,335.42 L352.1,335.22 L352.8,334.1 L352.87,333.99 L353.5,334.18 L353.67,334.23 L354.2,334.2 L354.9,334.17 L355.6,334.14 L356.3,334.1 L357,334.07 L357.7,334.04 L357.86,334.03 L358.4,334.61 L358.86,335.12 L359.1,334.74 L359.76,333.66 L359.8,333.67 L360.5,333.89 L360.56,333.91 L361.2,333.88 L361.9,333.85 L362.6,333.82 L363.3,333.79 L364,333.77 L364.7,333.74 L364.76,333.74 L365.4,334.46 L365.76,334.86 L366.1,334.29 L366.66,333.37 L366.8,333.42 L367.46,333.63 L367.5,333.63 L368.2,333.61 L368.9,333.58 L369.6,333.56 L370.3,333.53 L371,333.51 L371.65,333.49 L371.7,333.55 L372.4,334.36 L372.65,334.65 L373.1,333.89 L373.55,333.14 L373.8,333.23 L374.35,333.42 L374.5,333.41 L375.2,333.4 L375.9,333.38 L376.6,333.36 L377.3,333.35 L378,333.33 L378.54,333.32 L378.7,333.52 L379.4,334.36 L379.54,334.53 L380.1,333.57 L380.44,332.99 L380.8,333.12 L381.24,333.28 L381.5,333.28 L382.2,333.27 L382.9,333.26 L383.6,333.25 L384.3,333.24 L385,333.23 L385.43,333.22 L385.7,333.55 L386.4,334.41 L386.43,334.45 L387.1,333.29 L387.33,332.88 L387.8,333.06 L388.13,333.18 L388.5,333.18 L389.2,333.17 L389.9,333.16 L390.6,333.16 L391.3,333.15 L392,333.14 L392.32,333.14 L392.7,333.61 L393.32,334.4 L393.4,334.27 L394.1,333.02 L394.22,332.8 L394.8,333.03 L395.02,333.12 L395.5,333.11 L396.2,333.11 L396.9,333.11 L397.6,333.1 L398.3,333.1 L399,333.1 L399.22,333.1 L399.7,333.73 L400.22,334.4 L400.4,334.07 L401.1,332.8 L401.12,332.78 L401.8,333.05 L401.92,333.1 L402.5,333.1 L403.2,333.11 L403.9,333.11 L404.6,333.11 L405.3,333.12 L406,333.12 L406.11,333.12 L406.7,333.91 L407.11,334.45 L407.4,333.92 L408.01,332.81 L408.1,332.85 L408.8,333.15 L408.81,333.15 L409.5,333.16 L410.2,333.16 L410.9,333.17 L411.6,333.18 L412.3,333.19 L413,333.2 L413.7,334.14 L414,334.54 L414.4,333.81 L414.9,332.89 L415.1,332.98 L415.7,333.24 L415.8,333.24 L416.5,333.25 L417.2,333.26 L417.9,333.27 L418.6,333.28 L419.3,333.29 L419.89,333.3 L420,333.45 L420.7,334.4 L420.89,334.66 L421.4,333.72 L421.79,333 L422.1,333.13 L422.59,333.35 L422.8,333.36 L423.5,333.38 L424.2,333.4 L424.9,333.42 L425.6,333.44 L426.3,333.47 L426.78,333.48 L427,333.79 L427.7,334.77 L427.78,334.89 L428.4,333.74 L428.68,333.21 L429.1,333.41 L429.48,333.59 L429.8,333.6 L430.5,333.63 L431.2,333.66 L431.9,333.69 L432.6,333.72 L433.3,333.74 L433.68,333.76 L434,334.22 L434.68,335.18 L434.7,335.14 L435.4,333.82 L435.58,333.49 L436.1,333.74 L436.38,333.87 L436.8,333.89 L437.5,333.91 L438.2,333.94 L438.9,333.96 L439.6,333.99 L440.3,334.01 L440.57,334.02 L441,334.64 L441.57,335.45 L441.7,335.2 L442.4,333.86 L442.47,333.73 L443.1,334.03 L443.27,334.11 L443.8,334.13 L444.5,334.15 L445.2,334.17 L445.9,334.2 L446.6,334.22 L447.3,334.24 L447.46,334.25 L448,335.03 L448.46,335.69 L448.7,335.23 L449.36,333.96 L449.4,333.98 L450.1,334.31 L450.16,334.34 L450.8,334.36 L451.5,334.38 L452.2,334.4 L452.9,334.42 L453.6,334.44 L454.3,334.46 L454.35,334.46 L455,335.41 L455.35,335.92 L455.7,335.24 L456.25,334.16 L456.4,334.23 L457.05,334.53 L457.1,334.54 L457.8,334.55 L458.5,334.57 L459.2,334.58 L459.9,334.6 L460.6,334.61 L461.24,334.63 L461.3,334.71 L462,335.73 L462.24,336.09 L462.7,335.19 L463.14,334.3 L463.4,334.42 L463.94,334.68 L464.1,334.68 L464.8,334.7 L465.5,334.71 L466.2,334.73 L466.9,334.74 L467.6,334.76 L468.14,334.77 L468.3,335.01 L469,336.04 L469.14,336.24 L469.7,335.11 L470.04,334.44 L470.4,334.61 L470.84,334.81 L471.1,334.82 L471.8,334.83 L472.5,334.84 L473.2,334.85 L473.9,334.86 L474.6,334.87 L475.03,334.87 L475.3,335.28 L476,336.32 L476.03,336.36 L476.7,334.99 L476.93,334.52 L477.4,334.74 L477.73,334.89 L478.1,334.9 L478.8,334.9 L479.5,334.9 L480.2,334.9 L480.9,334.9 L481.6,334.9 L481.92,334.9 L482.3,335.46 L482.92,336.39 L483,336.22 L483.7,334.77 L483.82,334.52 L484.4,334.78 L484.62,334.89 L485.1,334.88 L485.8,334.88 L486.5,334.87 L487.2,334.87 L487.9,334.86 L488.6,334.85 L488.81,334.85 L489.3,335.58 L489.81,336.35 L490,335.95 L490.7,334.48 L490.71,334.45 L491.4,334.77 L491.51,334.82 L492.1,334.81 L492.8,334.8 L493.5,334.8 L494.2,334.79 L494.9,334.78 L495.6,334.77 L495.7,334.76 L496.3,335.66 L496.7,336.27 L497,335.64 L497.6,334.36 L497.7,334.4 L498.4,334.72 L498.4,334.72 L499.1,334.71 L499.8,334.7 L500.5,334.69 L501.2,334.68 L501.9,334.66 L502.6,334.65 L502.6,334.65 L503.3,335.71 L503.6,336.16 L504,335.29 L504.5,334.21 L504.7,334.3 L505.3,334.57 L505.4,334.57 L506.1,334.55 L506.8,334.52 L507.5,334.5 L508.2,334.47 L508.9,334.45 L509.49,334.42 L509.6,334.59 L510.3,335.66 L510.49,335.94 L511,334.81 L511.39,333.96 L511.7,334.1 L512.19,334.32 L512.4,334.31 L513.1,334.28 L513.8,334.25 L514.5,334.22 L515.2,334.19 L515.9,334.16 L516.38,334.14 L516.6,334.48 L517.3,335.55 L517.38,335.67 L518,334.3 L518.28,333.67 L518.7,333.86 L519.08,334.03 L519.4,334.02 L520.1,334 L520.8,333.97 L521.5,333.95 L522.2,333.92 L522.9,333.9 L523.27,333.88 L523.6,334.39 L524.27,335.43 L524.3,335.37 L525,333.8 L525.17,333.42 L525.7,333.66 L525.97,333.79 L526.4,333.77 L527.1,333.75 L527.8,333.72 L528.5,333.7 L529.2,333.67 L529.9,333.65 L530.16,333.64 L530.6,334.32 L531.16,335.21 L531.3,334.9 L532,333.31 L532.06,333.17 L532.7,333.46 L532.86,333.54 L533.4,333.51 L534.1,333.49 L534.8,333.46 L535.5,333.42 L536.2,333.39 L536.9,333.36 L537.06,333.35 L537.6,334.21 L538.06,334.92 L538.3,334.36 L538.96,332.85 L539,332.87 L539.7,333.19 L539.76,333.21 L540.4,333.18 L541.1,333.14 L541.8,333.09 L542.5,333.04 L543.2,332.99 L543.9,332.94 L543.95,332.94 L544.6,333.95 L544.95,334.49 L545.3,333.67 L545.85,332.37 L546,332.44 L546.65,332.71 L546.7,332.71 L547.4,332.65 L548.1,332.58 L548.8,332.52 L549.5,332.45 L550.2,332.38 L550.84,332.32 L550.9,332.42 L551.6,333.5 L551.84,333.87 L552.3,332.77 L552.74,331.72 L553,331.83 L553.54,332.05 L553.7,332.04 L554.4,331.96 L555.1,331.89 L555.8,331.82 L556.5,331.75 L557.2,331.68 L557.73,331.62 L557.9,331.88 L558.6,332.97 L558.73,333.18 L559.3,331.8 L559.63,330.99 L560,331.14 L560.43,331.32 L560.7,331.29 L561.4,331.21 L562.1,331.13 L562.8,331.04 L563.5,330.96 L564.2,330.87 L564.62,330.82 L564.9,331.25 L565.6,332.34 L565.62,332.38 L566.3,330.71 L566.52,330.16 L567,330.35 L567.32,330.47 L567.7,330.43 L568.4,330.33 L569.1,330.24 L569.8,330.14 L570.5,330.05 L571.2,329.95 L571.52,329.91 L571.9,330.51 L572.52,331.47 L572.6,331.26 L573,328.7" stroke="#3EA44E" stroke-width="1.05"/>
<path d="M70,346.5 L70.3,346.5 L70.7,346.5 L71.1,346.5 L71.4,346.5 L72.1,346.5 L72.8,346.5 L73.5,346.5 L74.2,346.5 L74.9,346.5 L75.29,346.5 L75.6,346.5 L76.29,346.51 L76.3,346.51 L77,346.5 L77.19,346.5 L77.7,346.5 L77.99,346.5 L78.4,346.5 L79.1,346.5 L79.8,346.5 L80.5,346.5 L81.2,346.5 L81.9,346.5 L82.18,346.5 L82.6,346.51 L83.18,346.52 L83.3,346.51 L84,346.49 L84.08,346.49 L84.7,346.5 L84.88,346.5 L85.4,346.5 L86.1,346.5 L86.8,346.5 L87.5,346.5 L88.2,346.5 L88.9,346.49 L89.08,346.49 L89.6,346.51 L90.08,346.52 L90.3,346.51 L90.98,346.49 L91,346.49 L91.7,346.49 L91.78,346.49 L92.4,346.49 L93.1,346.49 L93.8,346.49 L94.5,346.49 L95.2,346.49 L95.9,346.49 L95.97,346.49 L96.6,346.51 L96.97,346.53 L97.3,346.51 L97.87,346.48 L98,346.48 L98.67,346.49 L98.7,346.49 L99.4,346.49 L100.1,346.49 L100.8,346.49 L101.5,346.49 L102.2,346.49 L102.86,346.48 L102.9,346.49 L103.6,346.52 L103.86,346.53 L104.3,346.5 L104.76,346.47 L105,346.47 L105.56,346.48 L105.7,346.48 L106.4,346.48 L107.1,346.48 L107.8,346.48 L108.5,346.48 L109.2,346.48 L109.75,346.48 L109.9,346.49 L110.6,346.53 L110.75,346.54 L111.3,346.49 L111.65,346.46 L112,346.47 L112.45,346.48 L112.7,346.47 L113.4,346.47 L114.1,346.47 L114.8,346.47 L115.5,346.47 L116.2,346.47 L116.64,346.47 L116.9,346.49 L117.6,346.53 L117.64,346.54 L118.3,346.47 L118.54,346.45 L119,346.46 L119.34,346.47 L119.7,346.47 L120.4,346.47 L121.1,346.46 L121.8,346.46 L122.5,346.46 L123.2,346.46 L123.54,346.46 L123.9,346.49 L124.54,346.54 L124.6,346.53 L125.3,346.45 L125.44,346.44 L126,346.45 L126.24,346.46 L126.7,346.46 L127.4,346.46 L128.1,346.45 L128.8,346.45 L129.5,346.45 L130.2,346.45 L130.43,346.45 L130.9,346.49 L131.43,346.54 L131.6,346.52 L132.3,346.43 L132.33,346.43 L133,346.44 L133.13,346.45 L133.7,346.45 L134.4,346.44 L135.1,346.44 L135.8,346.44 L136.5,346.44 L137.2,346.44 L137.32,346.44 L137.9,346.5 L138.32,346.54 L138.6,346.5 L139.22,346.41 L139.3,346.41 L140,346.43 L140.02,346.44 L140.7,346.43 L141.4,346.43 L142.1,346.43 L142.8,346.43 L143.5,346.43 L144.2,346.43 L144.21,346.43 L144.9,346.5 L145.21,346.53 L145.6,346.48 L146.11,346.4 L146.3,346.4 L146.91,346.42 L147,346.42 L147.7,346.42 L148.4,346.42 L149.1,346.42 L149.8,346.42 L150.5,346.42 L151.1,346.42 L151.2,346.43 L151.9,346.51 L152.1,346.53 L152.6,346.45 L153,346.38 L153.3,346.39 L153.8,346.41 L154,346.41 L154.7,346.41 L155.4,346.41 L156.1,346.41 L156.8,346.4 L157.5,346.4 L158,346.4 L158.2,346.43 L158.9,346.51 L159,346.53 L159.6,346.42 L159.9,346.37 L160.3,346.38 L160.7,346.4 L161,346.39 L161.7,346.39 L162.4,346.39 L163.1,346.39 L163.8,346.39 L164.5,346.39 L164.89,346.39 L165.2,346.43 L165.89,346.52 L165.9,346.52 L166.6,346.38 L166.79,346.35 L167.3,346.37 L167.59,346.38 L168,346.38 L168.7,346.38 L169.4,346.38 L170.1,346.37 L170.8,346.37 L171.5,346.37 L171.78,346.37 L172.2,346.43 L172.78,346.52 L172.9,346.49 L173.6,346.35 L173.68,346.33 L174.3,346.36 L174.48,346.36 L175,346.36 L175.7,346.36 L176.4,346.36 L177.1,346.36 L177.8,346.36 L178.5,346.36 L178.67,346.35 L179.2,346.44 L179.67,346.51 L179.9,346.46 L180.57,346.31 L180.6,346.31 L181.3,346.34 L181.37,346.35 L182,346.35 L182.7,346.34 L183.4,346.34 L184.1,346.34 L184.8,346.34 L185.5,346.34 L185.56,346.34 L186.2,346.44 L186.56,346.5 L186.9,346.42 L187.46,346.29 L187.6,346.3 L188.26,346.33 L188.3,346.33 L189,346.33 L189.7,346.33 L190.4,346.33 L191.1,346.32 L191.8,346.32 L192.46,346.32 L192.5,346.33 L193.2,346.45 L193.46,346.49 L193.9,346.38 L194.36,346.27 L194.6,346.28 L195.16,346.31 L195.3,346.31 L196,346.31 L196.7,346.31 L197.4,346.31 L198.1,346.31 L198.8,346.3 L199.35,346.3 L199.5,346.33 L200.2,346.46 L200.35,346.49 L200.9,346.34 L201.25,346.25 L201.6,346.27 L202.05,346.29 L202.3,346.29 L203,346.29 L203.7,346.29 L204.4,346.29 L205.1,346.28 L205.8,346.28 L206.24,346.28 L206.5,346.33 L207.2,346.46 L207.24,346.47 L207.9,346.29 L208.14,346.22 L208.6,346.25 L208.94,346.27 L209.3,346.26 L210,346.26 L210.7,346.26 L211.4,346.25 L212.1,346.25 L212.8,346.25 L213.13,346.25 L213.5,346.32 L214.13,346.45 L214.2,346.43 L214.9,346.22 L215.03,346.18 L215.6,346.22 L215.83,346.23 L216.3,346.23 L217,346.22 L217.7,346.22 L218.4,346.21 L219.1,346.21 L219.8,346.2 L220.02,346.2 L220.5,346.3 L221.02,346.41 L221.2,346.36 L221.9,346.14 L221.92,346.14 L222.6,346.18 L222.72,346.18 L223.3,346.18 L224,346.18 L224.7,346.17 L225.4,346.17 L226.1,346.16 L226.8,346.16 L226.92,346.15 L227.5,346.28 L227.92,346.37 L228.2,346.28 L228.82,346.08 L228.9,346.09 L229.6,346.13 L229.62,346.13 L230.3,346.13 L231,346.12 L231.7,346.12 L232.4,346.11 L233.1,346.11 L233.8,346.1 L233.81,346.1 L234.5,346.26 L234.81,346.33 L235.2,346.2 L235.71,346.03 L235.9,346.04 L236.51,346.08 L236.6,346.08 L237.3,346.07 L238,346.07 L238.7,346.06 L239.4,346.05 L240.1,346.05 L240.7,346.04 L240.8,346.07 L241.5,346.23 L241.7,346.28 L242.2,346.11 L242.6,345.96 L242.9,345.99 L243.4,346.02 L243.6,346.02 L244.3,346.01 L245,346.01 L245.7,346 L246.4,345.99 L247.1,345.99 L247.59,345.98 L247.8,346.03 L248.5,346.21 L248.59,346.23 L249.2,346.01 L249.49,345.9 L249.9,345.93 L250.29,345.96 L250.6,345.96 L251.3,345.95 L252,345.95 L252.7,345.94 L253.4,345.93 L254.1,345.93 L254.48,345.92 L254.8,346.01 L255.48,346.18 L255.5,346.17 L256.2,345.91 L256.38,345.84 L256.9,345.88 L257.18,345.9 L257.6,345.9 L258.3,345.89 L259,345.89 L259.7,345.88 L260.4,345.87 L261.1,345.87 L261.38,345.87 L261.8,345.98 L262.38,346.13 L262.5,346.09 L263.2,345.81 L263.28,345.78 L263.9,345.83 L264.08,345.85 L264.6,345.84 L265.3,345.84 L266,345.83 L266.7,345.82 L267.4,345.82 L268.1,345.81 L268.27,345.81 L268.8,345.96 L269.27,346.09 L269.5,346 L270.17,345.73 L270.2,345.73 L270.9,345.79 L270.97,345.79 L271.6,345.79 L272.3,345.78 L273,345.78 L273.7,345.77 L274.4,345.77 L275.1,345.76 L275.16,345.76 L275.8,345.95 L276.16,346.05 L276.5,345.91 L277.06,345.67 L277.2,345.69 L277.86,345.74 L277.9,345.74 L278.6,345.74 L279.3,345.73 L280,345.73 L280.7,345.72 L281.4,345.72 L282.05,345.71 L282.1,345.73 L282.8,345.94 L283.05,346.01 L283.5,345.82 L283.95,345.62 L284.2,345.64 L284.75,345.69 L284.9,345.69 L285.6,345.69 L286.3,345.68 L287,345.68 L287.7,345.67 L288.4,345.67 L288.94,345.66 L289.1,345.71 L289.8,345.93 L289.94,345.97 L290.5,345.72 L290.84,345.57 L291.2,345.6 L291.64,345.64 L291.9,345.64 L292.6,345.64 L293.3,345.63 L294,345.63 L294.7,345.62 L295.4,345.62 L295.84,345.61 L296.1,345.7 L296.8,345.92 L296.84,345.93 L297.5,345.63 L297.74,345.52 L298.2,345.56 L298.54,345.59 L298.9,345.59 L299.6,345.58 L300.3,345.58 L301,345.57 L301.7,345.57 L302.4,345.56 L302.73,345.56 L303.1,345.68 L303.73,345.89 L303.8,345.85 L304.5,345.52 L304.63,345.46 L305.2,345.52 L305.43,345.54 L305.9,345.53 L306.6,345.53 L307.3,345.52 L308,345.52 L308.7,345.51 L309.4,345.51 L309.62,345.5 L310.1,345.66 L310.62,345.84 L310.8,345.75 L311.5,345.41 L311.52,345.4 L312.2,345.47 L312.32,345.48 L312.9,345.47 L313.6,345.47 L314.3,345.46 L315,345.46 L315.7,345.45 L316.4,345.44 L316.51,345.44 L317.1,345.64 L317.51,345.79 L317.8,345.64 L318.41,345.33 L318.5,345.34 L319.2,345.41 L319.21,345.41 L319.9,345.41 L320.6,345.4 L321.3,345.39 L322,345.39 L322.7,345.38 L323.4,345.37 L323.4,345.37 L324.1,345.62 L324.4,345.73 L324.8,345.52 L325.3,345.26 L325.5,345.28 L326.1,345.34 L326.2,345.34 L326.9,345.34 L327.6,345.33 L328.3,345.32 L329,345.31 L329.7,345.31 L330.3,345.3 L330.4,345.34 L331.1,345.59 L331.3,345.66 L331.8,345.39 L332.2,345.18 L332.5,345.22 L333,345.27 L333.2,345.27 L333.9,345.26 L334.6,345.25 L335.3,345.24 L336,345.24 L336.7,345.23 L337.19,345.22 L337.4,345.3 L338.1,345.56 L338.19,345.6 L338.8,345.26 L339.09,345.11 L339.5,345.15 L339.89,345.19 L340.2,345.19 L340.9,345.18 L341.6,345.17 L342.3,345.17 L343,345.16 L343.7,345.15 L344.08,345.15 L344.4,345.27 L345.08,345.53 L345.1,345.52 L345.8,345.13 L345.98,345.03 L346.5,345.09 L346.78,345.12 L347.2,345.11 L347.9,345.11 L348.6,345.1 L349.3,345.09 L350,345.08 L350.7,345.08 L350.97,345.07 L351.4,345.24 L351.97,345.47 L352.1,345.4 L352.8,344.99 L352.87,344.95 L353.5,345.03 L353.67,345.05 L354.2,345.04 L354.9,345.03 L355.6,345.03 L356.3,345.02 L357,345.01 L357.7,345.01 L357.86,345 L358.4,345.23 L358.86,345.42 L359.1,345.28 L359.76,344.88 L359.8,344.88 L360.5,344.97 L360.56,344.98 L361.2,344.97 L361.9,344.97 L362.6,344.96 L363.3,344.95 L364,344.95 L364.7,344.94 L364.76,344.94 L365.4,345.22 L365.76,345.38 L366.1,345.16 L366.66,344.81 L366.8,344.83 L367.46,344.92 L367.5,344.92 L368.2,344.91 L368.9,344.91 L369.6,344.9 L370.3,344.9 L371,344.89 L371.65,344.89 L371.7,344.91 L372.4,345.23 L372.65,345.34 L373.1,345.05 L373.55,344.76 L373.8,344.79 L374.35,344.87 L374.5,344.87 L375.2,344.86 L375.9,344.86 L376.6,344.85 L377.3,344.85 L378,344.85 L378.54,344.84 L378.7,344.92 L379.4,345.25 L379.54,345.32 L380.1,344.94 L380.44,344.71 L380.8,344.76 L381.24,344.83 L381.5,344.83 L382.2,344.82 L382.9,344.82 L383.6,344.81 L384.3,344.81 L385,344.81 L385.43,344.8 L385.7,344.94 L386.4,345.28 L386.43,345.3 L387.1,344.83 L387.33,344.67 L387.8,344.74 L388.13,344.79 L388.5,344.79 L389.2,344.78 L389.9,344.78 L390.6,344.78 L391.3,344.77 L392,344.77 L392.32,344.77 L392.7,344.96 L393.32,345.28 L393.4,345.23 L394.1,344.72 L394.22,344.63 L394.8,344.72 L395.02,344.75 L395.5,344.75 L396.2,344.75 L396.9,344.75 L397.6,344.74 L398.3,344.74 L399,344.73 L399.22,344.73 L399.7,344.99 L400.22,345.26 L400.4,345.13 L401.1,344.6 L401.12,344.59 L401.8,344.7 L401.92,344.72 L402.5,344.72 L403.2,344.71 L403.9,344.71 L404.6,344.7 L405.3,344.7 L406,344.7 L406.11,344.7 L406.7,345.02 L407.11,345.24 L407.4,345.02 L408.01,344.55 L408.1,344.56 L408.8,344.68 L408.81,344.68 L409.5,344.68 L410.2,344.67 L410.9,344.67 L411.6,344.66 L412.3,344.66 L413,344.65 L413.7,345.05 L414,345.22 L414.4,344.9 L414.9,344.5 L415.1,344.53 L415.7,344.63 L415.8,344.63 L416.5,344.63 L417.2,344.62 L417.9,344.62 L418.6,344.61 L419.3,344.61 L419.89,344.6 L420,344.66 L420.7,345.07 L420.89,345.18 L421.4,344.76 L421.79,344.44 L422.1,344.49 L422.59,344.58 L422.8,344.58 L423.5,344.57 L424.2,344.56 L424.9,344.56 L425.6,344.55 L426.3,344.54 L426.78,344.54 L427,344.67 L427.7,345.08 L427.78,345.14 L428.4,344.61 L428.68,344.36 L429.1,344.44 L429.48,344.51 L429.8,344.5 L430.5,344.5 L431.2,344.49 L431.9,344.48 L432.6,344.47 L433.3,344.46 L433.68,344.46 L434,344.66 L434.68,345.07 L434.7,345.05 L435.4,344.43 L435.58,344.28 L436.1,344.37 L436.38,344.42 L436.8,344.42 L437.5,344.41 L438.2,344.4 L438.9,344.39 L439.6,344.38 L440.3,344.37 L440.57,344.37 L441,344.64 L441.57,345 L441.7,344.88 L442.4,344.24 L442.47,344.18 L443.1,344.3 L443.27,344.33 L443.8,344.33 L444.5,344.32 L445.2,344.31 L445.9,344.3 L446.6,344.29 L447.3,344.28 L447.46,344.28 L448,344.63 L448.46,344.93 L448.7,344.7 L449.36,344.08 L449.4,344.09 L450.1,344.23 L450.16,344.24 L450.8,344.23 L451.5,344.22 L452.2,344.21 L452.9,344.2 L453.6,344.19 L454.3,344.18 L454.35,344.18 L455,344.61 L455.35,344.85 L455.7,344.51 L456.25,343.98 L456.4,344.01 L457.05,344.14 L457.1,344.14 L457.8,344.13 L458.5,344.12 L459.2,344.11 L459.9,344.1 L460.6,344.09 L461.24,344.08 L461.3,344.12 L462,344.6 L462.24,344.77 L462.7,344.32 L463.14,343.88 L463.4,343.93 L463.94,344.05 L464.1,344.04 L464.8,344.03 L465.5,344.02 L466.2,344.02 L466.9,344.01 L467.6,344 L468.14,343.99 L468.3,344.1 L469,344.6 L469.14,344.7 L469.7,344.12 L470.04,343.78 L470.4,343.86 L470.84,343.95 L471.1,343.95 L471.8,343.94 L472.5,343.93 L473.2,343.92 L473.9,343.91 L474.6,343.9 L475.03,343.89 L475.3,344.09 L476,344.6 L476.03,344.62 L476.7,343.92 L476.93,343.68 L477.4,343.78 L477.73,343.85 L478.1,343.85 L478.8,343.84 L479.5,343.83 L480.2,343.82 L480.9,343.81 L481.6,343.8 L481.92,343.79 L482.3,344.07 L482.92,344.54 L483,344.45 L483.7,343.7 L483.82,343.57 L484.4,343.7 L484.62,343.75 L485.1,343.74 L485.8,343.73 L486.5,343.72 L487.2,343.71 L487.9,343.7 L488.6,343.69 L488.81,343.69 L489.3,344.06 L489.81,344.45 L490,344.24 L490.7,343.48 L490.71,343.46 L491.4,343.62 L491.51,343.64 L492.1,343.63 L492.8,343.62 L493.5,343.61 L494.2,343.6 L494.9,343.59 L495.6,343.58 L495.7,343.57 L496.3,344.04 L496.7,344.35 L497,344.02 L497.6,343.34 L497.7,343.37 L498.4,343.53 L498.4,343.53 L499.1,343.52 L499.8,343.5 L500.5,343.49 L501.2,343.48 L501.9,343.47 L502.6,343.45 L502.6,343.46 L503.3,344.01 L503.6,344.25 L504,343.78 L504.5,343.21 L504.7,343.26 L505.3,343.4 L505.4,343.4 L506.1,343.39 L506.8,343.37 L507.5,343.36 L508.2,343.35 L508.9,343.33 L509.49,343.32 L509.6,343.41 L510.3,343.98 L510.49,344.13 L511,343.53 L511.39,343.07 L511.7,343.15 L512.19,343.26 L512.4,343.26 L513.1,343.25 L513.8,343.23 L514.5,343.22 L515.2,343.2 L515.9,343.19 L516.38,343.18 L516.6,343.36 L517.3,343.94 L517.38,344.01 L518,343.26 L518.28,342.92 L518.7,343.02 L519.08,343.12 L519.4,343.11 L520.1,343.1 L520.8,343.08 L521.5,343.06 L522.2,343.05 L522.9,343.03 L523.27,343.02 L523.6,343.3 L524.27,343.87 L524.3,343.84 L525,342.98 L525.17,342.76 L525.7,342.89 L525.97,342.96 L526.4,342.95 L527.1,342.94 L527.8,342.92 L528.5,342.9 L529.2,342.89 L529.9,342.87 L530.16,342.86 L530.6,343.24 L531.16,343.73 L531.3,343.56 L532,342.68 L532.06,342.6 L532.7,342.76 L532.86,342.8 L533.4,342.79 L534.1,342.77 L534.8,342.75 L535.5,342.74 L536.2,342.72 L536.9,342.7 L537.06,342.7 L537.6,343.18 L538.06,343.58 L538.3,343.27 L538.96,342.42 L539,342.44 L539.7,342.62 L539.76,342.63 L540.4,342.62 L541.1,342.6 L541.8,342.58 L542.5,342.56 L543.2,342.55 L543.9,342.53 L543.95,342.53 L544.6,343.11 L544.95,343.43 L545.3,342.97 L545.85,342.25 L546,342.29 L546.65,342.46 L546.7,342.46 L547.4,342.44 L548.1,342.42 L548.8,342.4 L549.5,342.38 L550.2,342.36 L550.84,342.35 L550.9,342.4 L551.6,343.04 L551.84,343.26 L552.3,342.65 L552.74,342.06 L553,342.13 L553.54,342.27 L553.7,342.27 L554.4,342.25 L555.1,342.23 L555.8,342.21 L556.5,342.19 L557.2,342.17 L557.73,342.16 L557.9,342.31 L558.6,342.97 L558.73,343.09 L559.3,342.31 L559.63,341.86 L560,341.96 L560.43,342.08 L560.7,342.07 L561.4,342.05 L562.1,342.03 L562.8,342.01 L563.5,341.99 L564.2,341.97 L564.62,341.96 L564.9,342.22 L565.6,342.88 L565.62,342.91 L566.3,341.96 L566.52,341.65 L567,341.78 L567.32,341.87 L567.7,341.86 L568.4,341.84 L569.1,341.82 L569.8,341.8 L570.5,341.78 L571.2,341.76 L571.52,341.75 L571.9,342.12 L572.52,342.71 L572.6,342.59 L573,342.03" stroke="#C371D2" stroke-width="1.0"/>
<path d="M70,346.5 L72.8,346.5 L75.6,346.5 L78.4,346.5 L81.2,346.5 L84,346.49 L86.8,346.49 L89.6,346.49 L92.4,346.49 L95.2,346.49 L98,346.49 L100.8,346.49 L103.6,346.49 L106.4,346.49 L109.2,346.48 L112,346.48 L114.8,346.48 L117.6,346.48 L120.4,346.48 L123.2,346.48 L126,346.48 L128.8,346.48 L131.6,346.48 L134.4,346.48 L137.2,346.47 L140,346.47 L142.8,346.47 L145.6,346.47 L148.4,346.47 L151.2,346.47 L154,346.47 L156.8,346.47 L159.6,346.47 L162.4,346.46 L165.2,346.46 L168,346.46 L170.8,346.46 L173.6,346.46 L176.4,346.46 L179.2,346.46 L182,346.46 L184.8,346.46 L187.6,346.45 L190.4,346.45 L193.2,346.45 L196,346.45 L198.8,346.45 L201.6,346.45 L204.4,346.45 L207.2,346.45 L210,346.45 L212.8,346.45 L215.6,346.44 L218.4,346.44 L221.2,346.44 L224,346.44 L226.8,346.44 L229.6,346.44 L232.4,346.44 L235.2,346.44 L238,346.44 L240.8,346.43 L243.6,346.43 L246.4,346.43 L249.2,346.43 L252,346.43 L254.8,346.43 L257.6,346.43 L260.4,346.43 L263.2,346.43 L266,346.42 L268.8,346.42 L271.6,346.42 L274.4,346.42 L277.2,346.42 L280,346.42 L282.8,346.42 L285.6,346.42 L288.4,346.42 L291.2,346.41 L294,346.41 L296.8,346.41 L299.6,346.41 L302.4,346.41 L305.2,346.41 L308,346.41 L310.8,346.41 L313.6,346.41 L316.4,346.41 L319.2,346.4 L322,346.4 L324.8,346.4 L327.6,346.4 L330.4,346.39 L333.2,346.35 L336,346.3 L338.8,346.26 L341.6,346.21 L344.4,346.17 L347.2,346.12 L350,346.08 L352.8,346.04 L355.6,345.99 L358.4,345.95 L361.2,345.9 L364,345.86 L366.8,345.81 L369.6,345.77 L372.4,345.72 L375.2,345.68 L378,345.63 L380.8,345.6 L383.6,345.58 L386.4,345.57 L389.2,345.55 L392,345.54 L394.8,345.53 L397.6,345.51 L400.4,345.5 L403.2,345.48 L406,345.47 L408.8,345.46 L411.6,345.44 L414.4,345.43 L417.2,345.41 L420,345.4 L422.8,345.39 L425.6,345.37 L428.4,345.36 L431.2,345.34 L434,345.33 L436.8,345.32 L439.6,345.3 L442.4,345.3 L445.2,345.3 L448,345.31 L450.8,345.31 L453.6,345.31 L456.4,345.31 L459.2,345.31 L462,345.32 L464.8,345.32 L467.6,345.32 L470.4,345.32 L473.2,345.32 L476,345.33 L478.8,345.33 L481.6,345.33 L484.4,345.33 L487.2,345.34 L490,345.34 L492.8,345.34 L495.6,345.34 L498.4,345.34 L501.2,345.35 L504,345.35 L506.8,345.35 L509.6,345.35 L512.4,345.35 L515.2,345.36 L518,345.36 L520.8,345.36 L523.6,345.36 L526.4,345.36 L529.2,345.37 L532,345.37 L534.8,345.37 L537.6,345.37 L540.4,345.38 L543.2,345.38 L546,345.38 L548.8,345.38 L551.6,345.38 L554.4,345.39 L557.2,345.39 L560,345.39 L562.8,345.39 L565.6,345.39 L568.4,345.4 L571.2,345.4 L573,345.4" stroke="#AC8E18" stroke-width="1.0"/>
<path d="M70,346.5 L573,346.5" stroke="#00AAAE" stroke-width="1.0"/>
<path d="M70,346.5 L573,346.5" stroke="#ED5E93" stroke-width="1.0"/>
</g>
<rect x="54" y="30" width="2" height="326" fill="#747474"/>
<line x1="54" y1="355.5" x2="588.5" y2="355.5" stroke="#222" stroke-width="1.2"/>
<g stroke="#000" stroke-width="1.1">
<line x1="70" y1="355" x2="70" y2="350.2" />
<line x1="175.5" y1="355" x2="175.5" y2="350.2" />
<line x1="281.5" y1="355" x2="281.5" y2="350.2" />
<line x1="386.6" y1="355" x2="386.6" y2="350.2" />
<line x1="492.5" y1="355" x2="492.5" y2="350.2" />
<line x1="54.5" y1="346.5" x2="60" y2="346.5" />
<line x1="54.5" y1="279.75" x2="60" y2="279.75" />
<line x1="54.5" y1="213" x2="60" y2="213" />
<line x1="54.5" y1="146.25" x2="60" y2="146.25" />
<line x1="54.5" y1="79.5" x2="60" y2="79.5" />
</g>
<rect x="468" y="41.5" width="102.5" height="104" fill="#fff" stroke="#000" stroke-width="1"/>
<line x1="473.2" y1="54.5" x2="509.9" y2="54.5" stroke="#009AFA" stroke-width="1.1"/>
<line x1="473.2" y1="67.5" x2="509.9" y2="67.5" stroke="#E36F47" stroke-width="1.1"/>
<line x1="473.2" y1="80.5" x2="509.9" y2="80.5" stroke="#3EA44E" stroke-width="1.1"/>
<line x1="473.2" y1="93.5" x2="509.9" y2="93.5" stroke="#C371D2" stroke-width="1.1"/>
<line x1="473.2" y1="106.5" x2="509.9" y2="106.5" stroke="#AC8E18" stroke-width="1.1"/>
<line x1="473.2" y1="119.5" x2="509.9" y2="119.5" stroke="#00AAAE" stroke-width="1.1"/>
<line x1="473.2" y1="132.5" x2="509.9" y2="132.5" stroke="#ED5E93" stroke-width="1.1"/>
<text x="72.19" y="18" font-size="21.9px" textLength="70.08" lengthAdjust="spacingAndGlyphs">Energy</text>
<text x="150.46" y="18" font-size="21.9px" textLength="49.15" lengthAdjust="spacingAndGlyphs">Over</text>
<text x="206.9" y="18" font-size="21.9px" textLength="50.69" lengthAdjust="spacingAndGlyphs">Time</text>
<text x="265" y="18" font-size="21.9px" textLength="27.02" lengthAdjust="spacingAndGlyphs">for</text>
<text x="300.29" y="18" font-size="21.9px" textLength="66.23" lengthAdjust="spacingAndGlyphs">Modes</text>
<text x="374.41" y="18" font-size="21.9px" textLength="18.15" lengthAdjust="spacingAndGlyphs">1,</text>
<text x="399.73" y="18" font-size="21.9px" textLength="19.52" lengthAdjust="spacingAndGlyphs">3,</text>
<text x="426.34" y="18" font-size="21.9px" textLength="19.29" lengthAdjust="spacingAndGlyphs">5,</text>
<text x="452.62" y="18" font-size="21.9px" textLength="19.75" lengthAdjust="spacingAndGlyphs">7,</text>
<text x="478.91" y="18" font-size="21.9px" textLength="19.98" lengthAdjust="spacingAndGlyphs">9,</text>
<text x="506.38" y="18" font-size="21.9px" textLength="32.36" lengthAdjust="spacingAndGlyphs">11,</text>
<text x="546" y="18" font-size="21.9px" textLength="24.36" lengthAdjust="spacingAndGlyphs">13</text>
<text x="302" y="392" font-size="17.3px" textLength="40.01" lengthAdjust="spacingAndGlyphs">Time</text>
<text x="66.9" y="371.7" font-size="13.0px" textLength="6.2" lengthAdjust="spacingAndGlyphs">0</text>
<text x="164.8" y="371.7" font-size="13.0px" textLength="21.21" lengthAdjust="spacingAndGlyphs">500</text>
<text x="265.78" y="371.7" font-size="13.0px" textLength="29.54" lengthAdjust="spacingAndGlyphs">1000</text>
<text x="371.59" y="371.7" font-size="13.0px" textLength="29.23" lengthAdjust="spacingAndGlyphs">1500</text>
<text x="477.9" y="371.7" font-size="13.0px" textLength="29.12" lengthAdjust="spacingAndGlyphs">2000</text>
<text x="28.5" y="351.1" font-size="13.0px" textLength="17.68" lengthAdjust="spacingAndGlyphs">0.0</text>
<text x="28.5" y="284.3" font-size="13.0px" textLength="17.68" lengthAdjust="spacingAndGlyphs">0.1</text>
<text x="28.5" y="217.5" font-size="13.0px" textLength="17.68" lengthAdjust="spacingAndGlyphs">0.2</text>
<text x="28.5" y="150.6" font-size="13.0px" textLength="17.68" lengthAdjust="spacingAndGlyphs">0.3</text>
<text x="28.5" y="83.8" font-size="13.0px" textLength="17.68" lengthAdjust="spacingAndGlyphs">0.4</text>
<text x="514" y="58.9" font-size="12.7px" textLength="31.75" lengthAdjust="spacingAndGlyphs">Mode</text>
<text x="550.32" y="58.9" font-size="12.7px" textLength="6.94" lengthAdjust="spacingAndGlyphs">1</text>
<text x="514" y="71.9" font-size="12.7px" textLength="31.75" lengthAdjust="spacingAndGlyphs">Mode</text>
<text x="551.3" y="71.9" font-size="12.7px" textLength="5.95" lengthAdjust="spacingAndGlyphs">3</text>
<text x="514" y="84.9" font-size="12.7px" textLength="31.75" lengthAdjust="spacingAndGlyphs">Mode</text>
<text x="551.3" y="84.9" font-size="12.7px" textLength="5.95" lengthAdjust="spacingAndGlyphs">5</text>
<text x="514" y="97.9" font-size="12.7px" textLength="31.75" lengthAdjust="spacingAndGlyphs">Mode</text>
<text x="551.3" y="97.9" font-size="12.7px" textLength="5.95" lengthAdjust="spacingAndGlyphs">7</text>
<text x="514" y="110.9" font-size="12.7px" textLength="31.75" lengthAdjust="spacingAndGlyphs">Mode</text>
<text x="551.3" y="110.9" font-size="12.7px" textLength="5.95" lengthAdjust="spacingAndGlyphs">9</text>
<text x="514" y="123.9" font-size="12.7px" textLength="31.75" lengthAdjust="spacingAndGlyphs">Mode</text>
<text x="550.17" y="123.9" font-size="12.7px" textLength="14.82" lengthAdjust="spacingAndGlyphs">11</text>
<text x="514" y="136.9" font-size="12.7px" textLength="31.75" lengthAdjust="spacingAndGlyphs">Mode</text>
<text x="550.26" y="136.9" font-size="12.7px" textLength="14.67" lengthAdjust="spacingAndGlyphs">13</text>
<text transform="translate(16.0,221.39) rotate(-90)" x="0" y="0" font-size="17.3px" textLength="9.11" lengthAdjust="spacingAndGlyphs">E</text>
<text transform="translate(16.0,211.99) rotate(-90)" x="0" y="0" font-size="17.3px" textLength="9.5" lengthAdjust="spacingAndGlyphs">n</text>
<text transform="translate(16.0,201.4) rotate(-90)" x="0" y="0" font-size="17.3px" textLength="8.98" lengthAdjust="spacingAndGlyphs">e</text>
<text transform="translate(16.0,191.16) rotate(-90)" x="0" y="0" font-size="17.3px" textLength="5.53" lengthAdjust="spacingAndGlyphs">r</text>
<text transform="translate(16.0,184) rotate(-90)" x="0" y="0" font-size="17.3px" textLength="8.82" lengthAdjust="spacingAndGlyphs">g</text>
<text transform="translate(16.0,174) rotate(-90)" x="0" y="0" font-size="17.3px" textLength="7.97" lengthAdjust="spacingAndGlyphs">y</text>
</svg>
</body></html>
